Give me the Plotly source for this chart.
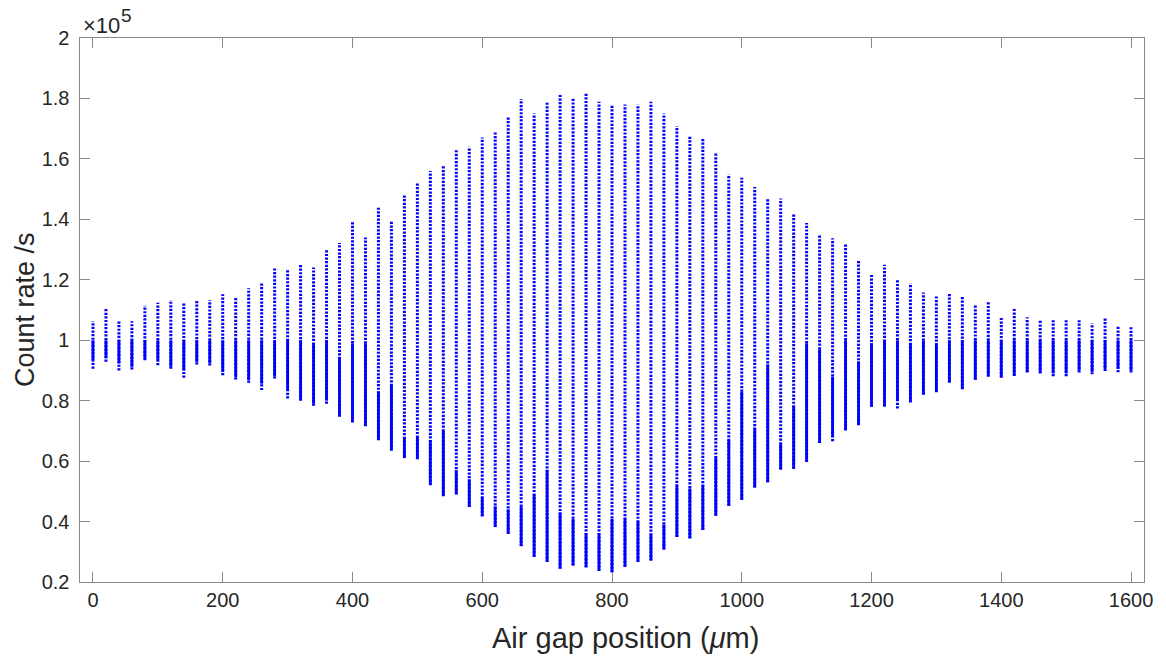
import plotly.graph_objects as go

# Air gap positions (µm), one column of samples every 20 µm
positions = [0, 20, 40, 60, 80, 100, 120, 140, 160, 180, 200, 220, 240, 260, 280, 300,
             320, 340, 360, 380, 400, 420, 440, 460, 480, 500, 520, 540, 560, 580, 600,
             620, 640, 660, 680, 700, 720, 740, 760, 780, 800, 820, 840, 860, 880, 900,
             920, 940, 960, 980, 1000, 1020, 1040, 1060, 1080, 1100, 1120, 1140, 1160,
             1180, 1200, 1220, 1240, 1260, 1280, 1300, 1320, 1340, 1360, 1380, 1400,
             1420, 1440, 1460, 1480, 1500, 1520, 1540, 1560, 1580, 1600]

# Highest count rate of each column (x1e5 /s)
count_max = [1.063, 1.104, 1.063, 1.063, 1.114, 1.124, 1.133, 1.124, 1.133, 1.133, 1.152,
             1.143, 1.172, 1.192, 1.241, 1.232, 1.250, 1.241, 1.300, 1.322, 1.392, 1.340,
             1.441, 1.392, 1.482, 1.521, 1.560, 1.579, 1.629, 1.640, 1.671, 1.689, 1.739,
             1.797, 1.750, 1.789, 1.811, 1.800, 1.818, 1.789, 1.780, 1.780, 1.780, 1.789,
             1.750, 1.709, 1.678, 1.670, 1.618, 1.548, 1.538, 1.507, 1.469, 1.469, 1.419,
             1.388, 1.347, 1.337, 1.318, 1.267, 1.217, 1.250, 1.199, 1.188, 1.158, 1.150,
             1.157, 1.147, 1.117, 1.127, 1.076, 1.107, 1.076, 1.066, 1.066, 1.066, 1.066,
             1.055, 1.076, 1.046, 1.046]

# Lowest count rate of each column (x1e5 /s)
count_min = [0.906, 0.929, 0.900, 0.903, 0.934, 0.917, 0.906, 0.876, 0.920, 0.916, 0.884,
             0.870, 0.859, 0.835, 0.873, 0.807, 0.801, 0.783, 0.790, 0.747, 0.728, 0.715,
             0.669, 0.634, 0.614, 0.606, 0.520, 0.484, 0.490, 0.448, 0.417, 0.382, 0.360,
             0.318, 0.283, 0.266, 0.244, 0.255, 0.248, 0.236, 0.232, 0.251, 0.266, 0.271,
             0.307, 0.349, 0.344, 0.372, 0.419, 0.452, 0.472, 0.513, 0.530, 0.572, 0.575,
             0.597, 0.660, 0.666, 0.702, 0.719, 0.780, 0.781, 0.774, 0.794, 0.820, 0.828,
             0.860, 0.838, 0.869, 0.880, 0.876, 0.882, 0.893, 0.890, 0.881, 0.881, 0.893,
             0.887, 0.898, 0.894, 0.893]

# Range in which the samples of each column are densely packed (x1e5 /s)
dense_low = [0.934, 0.940, 0.923, 0.912, 0.940, 0.934, 0.912, 0.900, 0.928, 0.923, 0.895,
             0.878, 0.867, 0.856, 0.880, 0.835, 0.800, 0.790, 0.800, 0.750, 0.730, 0.720,
             0.670, 0.640, 0.610, 0.610, 0.525, 0.487, 0.490, 0.450, 0.420, 0.385, 0.360,
             0.320, 0.285, 0.270, 0.245, 0.255, 0.250, 0.240, 0.232, 0.250, 0.270, 0.271,
             0.310, 0.350, 0.345, 0.372, 0.420, 0.452, 0.472, 0.513, 0.530, 0.572, 0.575,
             0.600, 0.660, 0.680, 0.702, 0.720, 0.780, 0.781, 0.800, 0.800, 0.820, 0.830,
             0.860, 0.840, 0.870, 0.880, 0.880, 0.885, 0.895, 0.895, 0.890, 0.890, 0.900,
             0.895, 0.905, 0.905, 0.900]
dense_high = [1.0, 1.0, 1.0, 1.0, 1.0, 1.0, 1.0, 1.0, 1.0, 1.0, 1.0,
              1.0, 1.0, 1.0, 1.0, 1.0, 1.0, 0.990, 1.0, 0.945, 0.990, 0.990,
              0.830, 0.850, 0.680, 0.680, 0.670, 0.700, 0.570, 0.540, 0.480, 0.450, 0.440,
              0.450, 0.490, 0.570, 0.430, 0.410, 0.360, 0.360, 0.410, 0.410, 0.400, 0.360,
              0.390, 0.520, 0.510, 0.520, 0.610, 0.670, 0.830, 0.710, 0.920, 0.660, 0.780,
              0.990, 0.970, 0.880, 1.0, 0.930, 0.990, 1.0, 1.0, 0.990, 1.0, 0.990,
              1.0, 1.0, 1.0, 1.0, 1.0, 1.0, 1.0, 1.0, 1.0, 1.0, 1.0,
              1.0, 1.0, 1.0, 1.0]

y_tickvals = [0.2, 0.4, 0.6, 0.8, 1.0, 1.2, 1.4, 1.6, 1.8, 2.0]
y_ticktext = ["0.2", "0.4", "0.6", "0.8", "1", "1.2", "1.4", "1.6", "1.8", "2"]
x_tickvals = [0, 200, 400, 600, 800, 1000, 1200, 1400, 1600]

BLUE = "#0000ff"
AXIS = "#8a8a8a"
TEXT = "#262626"
FONT = "Liberation Sans, Arial, sans-serif"


def segments(lows, highs):
    xs, ys = [], []
    for x, lo, hi in zip(positions, lows, highs):
        xs += [x, x, None]
        ys += [lo, hi, None]
    return xs, ys


sx, sy = segments(count_min, count_max)
dx, dy = segments(dense_low, dense_high)

fig = go.Figure()
fig.add_trace(go.Scatter(x=sx, y=sy, mode="lines", connectgaps=False,
                         line=dict(color=BLUE, width=3, dash="2.2px,1.4px"),
                         hoverinfo="skip", showlegend=False))
fig.add_trace(go.Scatter(x=dx, y=dy, mode="lines", connectgaps=False,
                         line=dict(color=BLUE, width=2.8),
                         hoverinfo="skip", showlegend=False))

axis_common = dict(showgrid=False, zeroline=False, showline=True, linecolor=AXIS,
                   linewidth=1, mirror="ticks", ticks="inside", ticklen=10,
                   tickcolor=AXIS, tickwidth=1,
                   tickfont=dict(family=FONT, size=20, color=TEXT))

fig.update_layout(
    width=1166, height=657,
    margin=dict(l=80, r=22, t=38, b=75),
    paper_bgcolor="white", plot_bgcolor="white",
    xaxis=dict(range=[-20, 1620], tickvals=x_tickvals, **axis_common),
    yaxis=dict(range=[0.2, 2.0], tickvals=y_tickvals,
               ticktext=[t + "\u00a0" for t in y_ticktext], **axis_common),
    annotations=[
        dict(text="×10", xref="paper", yref="paper", x=0, y=1,
             xanchor="left", yanchor="bottom", xshift=1, yshift=-2,
             showarrow=False, font=dict(family=FONT, size=22, color=TEXT)),
        dict(text="5", xref="paper", yref="paper", x=0, y=1,
             xanchor="left", yanchor="bottom", xshift=39, yshift=10,
             showarrow=False, font=dict(family=FONT, size=19, color=TEXT)),
        dict(text="Air gap position (<i>μ</i>m)", xref="paper", yref="paper",
             x=0.513, y=0, xanchor="center", yanchor="middle", yshift=-56,
             showarrow=False, font=dict(family=FONT, size=29, color=TEXT)),
        dict(text="Count rate /s", xref="paper", yref="paper",
             x=0, y=0.5, xanchor="center", yanchor="middle", xshift=-55,
             textangle=-90, showarrow=False,
             font=dict(family=FONT, size=27, color=TEXT)),
    ],
)

fig.write_html("out.html")
